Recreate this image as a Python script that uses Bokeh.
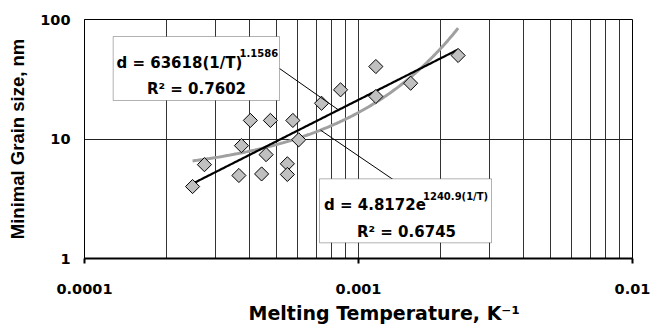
import math
import numpy as np
from bokeh.plotting import figure
from bokeh.models import (Range1d, FixedTicker, CustomJSTickFormatter, Label,
                          BoxAnnotation, ColumnDataSource, Title)
from bokeh.embed import file_html
from bokeh.resources import INLINE

# ---------------- data ----------------
inv_T = [2.48e-4, 2.74e-4, 3.66e-4, 3.74e-4, 4.43e-4, 4.60e-4, 5.50e-4, 5.50e-4,
         6.05e-4, 4.03e-4, 4.77e-4, 5.76e-4, 7.33e-4, 8.60e-4, 1.157e-3, 1.157e-3,
         1.55e-3, 2.31e-3]
grain = [4.0, 6.1, 4.95, 8.8, 5.1, 7.4, 6.2, 5.05,
         9.85, 14.3, 14.3, 14.3, 19.9, 25.8, 40.4, 22.7,
         29.3, 50.0]

# trend line coefficients (from chart labels)
pow_a, pow_b = 63618.0, 1.1586
exp_a, exp_b = 4.8172, 1240.9
pow_r2 = "0.7602"
exp_r2 = "0.6745"

x_ticks = [1e-4, 1e-3, 1e-2]
y_ticks = [1, 10, 100]
x_grid = [2e-4, 3e-4, 4e-4, 5e-4, 6e-4, 7e-4, 8e-4, 9e-4, 1e-3,
          2e-3, 3e-3, 4e-3, 5e-3, 6e-3, 7e-3, 8e-3, 9e-3]
y_grid = [10]

x_title = "Melting Temperature, K\u207b\u00b9"
y_title = "Minimal Grain size, nm"

# ---------------- layout helpers (canvas px -> data) ----------------
FL, FR, FT, FB = 84, 632, 19, 258
W, H = 661, 329
def dx(px):
    return 10 ** (-4 + 2 * (px - FL) / (FR - FL))
def dy(py):
    return 10 ** (2 * (FB - py) / (FB - FT))

p = figure(width=W, height=H, x_axis_type="log", y_axis_type="log",
           x_range=Range1d(1e-4, 1e-2), y_range=Range1d(1, 100),
           output_backend="svg", toolbar_location=None,
           min_border_left=FL, min_border_right=W - FR, min_border_top=FT,
           min_border_bottom=H - FB)
p.background_fill_color = "white"
p.border_fill_color = "white"
p.outline_line_color = "black"
p.outline_line_width = 1

fmt = CustomJSTickFormatter(code="return tick.toString();")
for ax in (p.xaxis[0], p.yaxis[0]):
    ax.formatter = fmt
    ax.minor_tick_out = 0
    ax.minor_tick_in = 0
    ax.major_tick_in = 0
    ax.major_label_text_font = "DejaVu Sans"
    ax.major_label_text_font_style = "bold"
    ax.major_label_text_font_size = "14.5px"
    ax.major_label_text_color = "black"
    ax.axis_line_color = "black"
p.xaxis[0].ticker = FixedTicker(ticks=x_ticks)
p.yaxis[0].ticker = FixedTicker(ticks=y_ticks)
p.xaxis[0].axis_line_width = 2
p.xaxis[0].major_tick_out = 5
p.xaxis[0].major_tick_line_width = 2
p.xaxis[0].major_label_standoff = 20
p.yaxis[0].major_tick_out = 0
p.yaxis[0].major_label_standoff = 14

p.yaxis[0].axis_label = y_title
p.yaxis[0].axis_label_text_font = "Liberation Sans"
p.yaxis[0].axis_label_text_font_style = "bold"
p.yaxis[0].axis_label_text_font_size = "18.5px"
p.yaxis[0].axis_label_text_color = "black"
p.yaxis[0].axis_label_standoff = 9

p.add_layout(Title(text=x_title, align="left", offset=164, standoff=7,
                   text_font="DejaVu Sans", text_font_style="bold",
                   text_font_size="19px", text_color="black"), "below")

p.xgrid.ticker = FixedTicker(ticks=x_grid)
p.ygrid.ticker = FixedTicker(ticks=y_grid)
p.xgrid.grid_line_color = "#333333"
p.ygrid.grid_line_color = "#222222"
p.xgrid.grid_line_width = 1
p.ygrid.grid_line_width = 1

# trend lines
xs = np.geomspace(min(inv_T), max(inv_T), 200)
p.line(xs, exp_a * np.exp(exp_b * xs), line_color="#a0a0a0", line_width=3)
p.line(xs, pow_a * xs ** pow_b, line_color="black", line_width=2.2)

# points
src = ColumnDataSource(dict(x=inv_T, y=grain))
p.scatter("x", "y", source=src, marker="square", angle=math.pi / 4, size=10,
          fill_color="#c0c0c0", line_color="black", line_width=1)

# leader lines
lx1 = dx(338)
lx2 = dx(320)
p.segment(x0=[dx(279), dx(393)], y0=[dy(68), dy(179.3)],
          x1=[lx1, lx2], y1=[pow_a * lx1 ** pow_b, exp_a * math.exp(exp_b * lx2)],
          line_color="black", line_width=1)

# label boxes
p.add_layout(BoxAnnotation(left=dx(112.7), right=dx(279), top=dy(36), bottom=dy(100),
                           fill_color="white", fill_alpha=1, line_color="black",
                           line_width=1))
p.add_layout(BoxAnnotation(left=dx(319), right=dx(491), top=dy(178.3), bottom=dy(242.3),
                           fill_color="white", fill_alpha=1, line_color="black",
                           line_width=1))

def lab(text, px, py, size, align="left", baseline="alphabetic"):
    p.add_layout(Label(x=dx(px), y=dy(py), text=text, text_font="DejaVu Sans",
                       text_font_style="bold", text_font_size=size,
                       text_color="black", text_align=align,
                       text_baseline=baseline))

lab(f"d = {pow_a:.0f}(1/T)", 116, 62.7, "15px")
lab(f"{pow_b}", 239, 52.5, "10px")
lab(f"R\u00b2 = {pow_r2}", 196, 88.3, "15px", align="center")

lab(f"d = {exp_a}e", 323.5, 204.3, "15px")
lab(f"{exp_b}(1/T)", 422.5, 196, "10px")
lab(f"R\u00b2 = {exp_r2}", 406, 231, "15px", align="center")

open("out.html", "w").write(file_html(p, INLINE))
